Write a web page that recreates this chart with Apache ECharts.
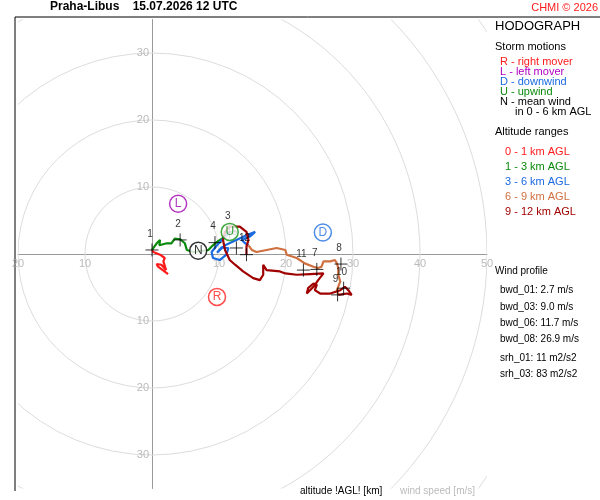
<!DOCTYPE html>
<html><head><meta charset="utf-8">
<script src="https://cdn.jsdelivr.net/npm/echarts@6/dist/echarts.min.js"></script>
<style>html,body{margin:0;padding:0;background:#fff}#c{width:600px;height:500px}</style>
</head><body><div id="c"></div>
<script>
const ringRadii = [10,20,30,40,50,60,70,80,90];
const xTicks = [-20,-10,10,20,30,40,50];
const yTicks = [30,20,10,-10,-20,-30];
const seg01 = [[2.4,-3.0],[0.9,-1.9],[0.7,-1.5],[1.4,-1.6],[2.1,-2.4],[1.7,-1.1],[1.9,-0.6],[1.2,-0.1],[0.2,0.3],[0,0.6]];
const seg13 = [[0,0.6],[0.7,1.6],[1.2,2.1],[1.1,1.3],[2.2,1.6],[2.9,1.6],[3.4,2.3],[4.2,2.2],[4.9,1.6],[5.2,0.6],[6.2,0.3],[8.4,0.6],[9.1,1.3],[9.7,1.8],[10.9,2.6],[11.6,3.3]];
const seg36 = [[11.6,3.3],[10.9,2.6],[9.7,1.3],[8.9,0.3],[9.1,-0.6],[10.1,-0.9],[11.1,-0.1],[11.4,0.9],[10.4,1.0],[9.7,0.2],[10.9,1.3],[12.6,2.1],[14.1,2.8],[15.4,3.3],[14.6,2.6],[13.4,2.1],[13.9,1.6],[14.4,1.3]];
const seg69 = [[14.4,1.3],[14.9,0.6],[15.6,0.3],[17.1,0.6],[18.6,0.9],[19.9,0.6],[20.1,-0.1],[21.6,-0.6],[22.8,-1.4],[24.1,-1.9],[24.8,-2.1],[25.3,-1.9],[25.6,-1.1],[26.6,-1.1],[27.3,-0.9],[27.6,-1.4],[27.8,-2.1],[27.8,-3.1],[28.1,-4.1],[27.6,-5.4],[27.8,-6.1]];
const seg912 = [[27.8,-6.1],[29.1,-5.9],[29.8,-6.1],[29.3,-5.4],[28.8,-4.9],[28.1,-5.4],[26.6,-5.9],[25.1,-5.9],[24.3,-5.4],[24.6,-4.6],[24.1,-4.4],[23.3,-5.1],[23.1,-5.9],[24.1,-4.9],[24.8,-3.9],[25.6,-2.9],[23.6,-3.0],[21.6,-3.1],[19.9,-2.9],[19.1,-2.6],[17.1,-2.4],[16.6,-1.6],[16.6,-3.1],[16.1,-3.9],[15.1,-3.6],[13.6,-2.6],[12.4,-1.6],[11.6,-0.9],[10.9,0.6],[10.6,2.1],[10.9,3.3],[11.6,4.1],[13.1,4.1],[14.1,3.3],[14.4,2.1],[14.1,1.1],[14.1,-0.1]];
const kmMarks = [["1",0,0.6],["2",4.2,2.1],["3",11.6,3.3],["4",9.4,1.7],["5",12.6,0.9],["12",14.1,-0.1],["11",22.6,-2.4],["7",24.6,-2.3],["8",28.2,-1.5],["9",27.7,-6.1],["10",28.6,-5.1]];
const storms = [["L",3.9,7.5,"#a000b0"],["U",11.6,3.3,"#109010"],["N",6.9,0.5,"#000"],["R",9.7,-6.4,"#ff2020"],["D",25.5,3.2,"#2070e0"]];

const F='Liberation Sans';
const segs = [[seg01,'#ff1a1a'],[seg13,'#0a8a0a'],[seg36,'#1a6ae0'],[seg69,'#d07040'],[seg912,'#a00000']];
const series = [{
  type:'custom', clip:true, silent:true, data: ringRadii.map(r=>[r]),
  renderItem:(p,api)=>{const c=api.coord([0,0]);const r=api.size([api.value(0),0])[0];
    return {type:'circle',shape:{cx:c[0],cy:c[1],r:r},style:{fill:null,stroke:'#dcdcdc',lineWidth:1}};}
}];
series.push({type:'scatter',silent:true,symbolSize:0,data:xTicks.map(v=>[v,0]),
  label:{show:true,position:'bottom',distance:4,color:'#aaa',fontSize:11,fontFamily:F,formatter:p=>String(Math.abs(p.value[0]))}});
series.push({type:'scatter',silent:true,symbolSize:0,data:yTicks.map(v=>[0,v]),
  label:{show:true,position:'left',distance:3,color:'#aaa',fontSize:11,fontFamily:F,formatter:p=>String(Math.abs(p.value[1]))}});
segs.forEach(([d,col])=>series.push({type:'line',data:d,showSymbol:false,lineStyle:{color:col,width:2.2},z:3,clip:true}));
series.push({type:'scatter',z:5,data:kmMarks.map(m=>({value:[m[1],m[2]],name:m[0]})),
  symbol:'path://M0,5L10,5M5,0L5,10',symbolSize:13,
  itemStyle:{color:'none',borderColor:'#000',borderWidth:1},
  label:{show:true,formatter:'{b}',position:'top',offset:[-2,3],color:'#000',fontSize:10,fontFamily:F}});
series.push({type:'scatter',z:6,data:storms.map(s=>({value:[s[1],s[2]],name:s[0],itemStyle:{borderColor:s[3]},label:{color:s[3]}})),
  symbol:'circle',symbolSize:17,itemStyle:{color:'#fff',borderWidth:1.5},
  label:{show:true,formatter:'{b}',position:'inside',fontSize:12,fontFamily:F}});

const right=[
 ['HODOGRAPH',495,20,'#000',12],['Storm motions',495,41,'#000',10],
 ['R - right mover',500,56,'#ff1a1a',10],['L - left mover',500,66,'#b000c0',10],['D - downwind',500,76,'#1a6ae0',10],['U - upwind',500,86,'#0a8a0a',10],['N - mean wind',500,96,'#000',10],['in 0 - 6 km AGL',515,106,'#000',10],
 ['Altitude ranges',495,126,'#000',10],
 ['0 - 1 km AGL',505,146,'#ff1a1a',10],['1 - 3 km AGL',505,161,'#0a8a0a',10],['3 - 6 km AGL',505,176,'#1a6ae0',10],['6 - 9 km AGL',505,191,'#d07040',10],['9 - 12 km AGL',505,206,'#a00000',10],
 ['Wind profile',495,266,'#000',9],['bwd_01: 2.7 m/s',500,285,'#000',9],['bwd_03: 9.0 m/s',500,302,'#000',9],['bwd_06: 11.7 m/s',500,318,'#000',9],['bwd_08: 26.9 m/s',500,334,'#000',9],['srh_01: 11 m2/s2',500,353,'#000',9],['srh_03: 83 m2/s2',500,369,'#000',9]
];
const graphic=right.map(t=>({type:'text',left:t[1],top:t[2],style:{text:t[0],fill:t[3],fontSize:t[4]+1,fontFamily:F}}));
graphic.push({type:'text',left:50,top:1,style:{text:'Praha-Libus    15.07.2026 12 UTC',fill:'#000',fontSize:12,fontWeight:'bold',fontFamily:F}});
graphic.push({type:'text',right:2,top:2,style:{text:'CHMI © 2026',fill:'#ff1a1a',fontSize:11,fontFamily:F}});
graphic.push({type:'line',shape:{x1:15,y1:17,x2:600,y2:17},style:{stroke:'#000',lineWidth:1}});
graphic.push({type:'line',shape:{x1:15,y1:17,x2:15,y2:491},style:{stroke:'#000',lineWidth:1}});
graphic.push({type:'text',left:300,top:486,style:{text:'altitude !AGL! [km]',fill:'#000',fontSize:10,fontFamily:F}});
graphic.push({type:'text',left:400,top:486,style:{text:'wind speed [m/s]',fill:'#bbb',fontSize:10,fontFamily:F}});

const chart=echarts.init(document.getElementById('c'));
chart.setOption({
 animation:false,backgroundColor:'#fff',
 grid:{left:18,top:19.5,right:113,bottom:11.5},
 xAxis:{type:'value',min:-20,max:50,interval:10,splitLine:{show:false},
   axisLine:{onZero:true,lineStyle:{color:'#999'}},axisTick:{show:false},axisLabel:{show:false}},
 yAxis:{type:'value',min:-35,max:35,interval:5,splitLine:{show:false},
   axisLine:{onZero:true,lineStyle:{color:'#999'}},axisTick:{show:false},axisLabel:{show:false}},
 graphic:graphic, series:series
});
</script></body></html>
